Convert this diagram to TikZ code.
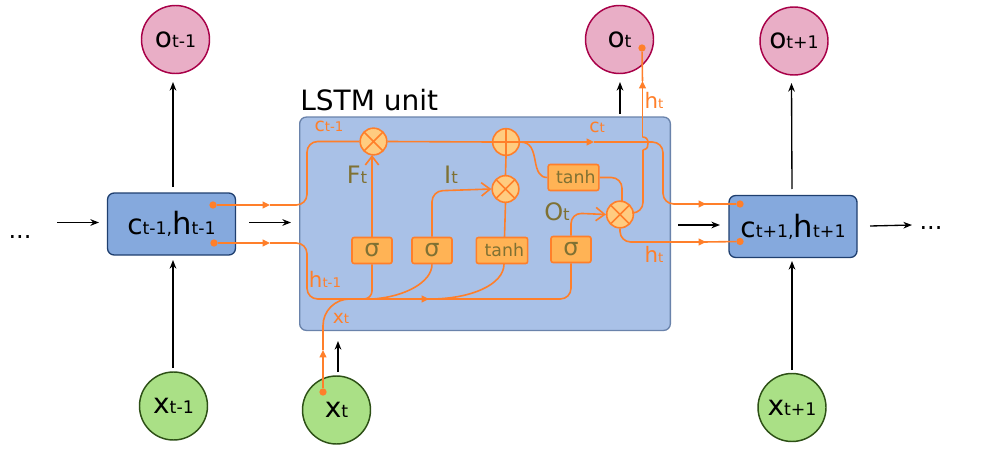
\documentclass[tikz,border=0pt]{standalone}
\usepackage{fontspec}
\setmainfont{DejaVu Sans}
\usetikzlibrary{arrows.meta}
\definecolor{ol}{HTML}{FF7F2A}
\definecolor{olv}{HTML}{7F7133}
\definecolor{lstm}{HTML}{A9C1E7}
\definecolor{lstmb}{HTML}{6A83AB}
\definecolor{boxf}{HTML}{85A9DD}
\definecolor{boxb}{HTML}{1F3F6F}
\definecolor{pinkf}{HTML}{E9AEC6}
\definecolor{pinkb}{HTML}{A80048}
\definecolor{greenf}{HTML}{AAE086}
\definecolor{greenb}{HTML}{2D5016}
\definecolor{gatef}{HTML}{FFCC80}
\definecolor{layf}{HTML}{FFB355}
\newcommand{\fs}[1]{\fontsize{#1}{#1}\selectfont}
\newcommand{\biglab}[2]{{\fs{21}#1}{\fs{13}#2}}
\newcommand{\midlab}[2]{{\fs{18}#1}{\fs{12.5}#2}}
\newcommand{\orlab}[2]{{\fs{14}#1}{\fs{10}#2}}
\newcommand{\hlab}[2]{{\fs{16}#1}{\fs{10}#2}}
\tikzset{
  circ/.style={circle,draw,line width=1.1pt,minimum size=51pt,inner sep=0pt},
  outn/.style={circ,fill=pinkf,draw=pinkb},
  inn/.style={circ,fill=greenf,draw=greenb},
  cellbox/.style={rectangle,rounded corners=5pt,draw=boxb,fill=boxf,line width=1pt,minimum width=96pt,minimum height=46.5pt,inner sep=0pt},
  gatec/.style={circle,draw=ol,fill=gatef,line width=1.2pt,minimum size=20pt,inner sep=0pt},
  timesg/.style={gatec,path picture={\draw[ol,line width=1.2pt] (path picture bounding box.north west)--(path picture bounding box.south east) (path picture bounding box.north east)--(path picture bounding box.south west);}},
  plusg/.style={gatec,path picture={\draw[ol,line width=1.2pt] (path picture bounding box.north)--(path picture bounding box.south) (path picture bounding box.east)--(path picture bounding box.west);}},
  lay/.style={rectangle,rounded corners=1.6pt,draw=ol,fill=layf,line width=1.2pt,minimum height=19.5pt,minimum width=30pt,inner sep=0pt,text=olv},
  olin/.style={draw=ol,line width=1.2pt,rounded corners=8pt},
  tipl/.style={olin,-{Triangle[length=5.5pt,width=5pt]}},
  barb/.style={olin,-{Straight Barb[length=6.5pt,width=10pt]}},
  dotn/.style={circle,fill=ol,minimum size=5.5pt,inner sep=0pt},
  arr/.style={draw=black,line width=1pt,-{Stealth[length=6.5pt,width=5pt]}},
  olbl/.style={text=ol,anchor=base},
  glbl/.style={text=olv,anchor=base},
}
\begin{document}
\begin{tikzpicture}[x=0.75pt,y=-0.75pt]
\useasboundingbox (0,0) rectangle (988,456);
% unit
\node[rectangle,rounded corners=5pt,draw=lstmb,fill=lstm,line width=1pt,minimum width=278pt,minimum height=160pt,inner sep=0pt] (unit) at (485,223.75) {};
\node[anchor=base west,inner sep=0pt] (title) at (300,111) {\fs{21}LSTM unit};
% big nodes
\node[outn] (om) at (175.5,39.5) {\biglab{o}{t-1}};
\node[outn] (o0) at (619.5,39.5) {\biglab{o}{t}};
\node[outn] (op) at (794,41) {\biglab{o}{t+1}};
\node[inn] (xm) at (173.5,406) {\biglab{x}{t-1}};
\node[inn] (x0) at (336.5,410) {\biglab{x}{t}};
\node[inn] (xp) at (792,407.5) {\biglab{x}{t+1}};
\node[cellbox] (bl) at (171.5,224) {\biglab{c}{t-1,}{\fs{23}h}{\fs{13}t-1}};
\node[cellbox] (br) at (793,226.5) {\biglab{c}{t+1,}{\fs{23}h}{\fs{13}t+1}};
\node[anchor=base,inner sep=0pt] (dl) at (20,238) {\fs{18}...};
\node[anchor=base,inner sep=0pt] (dr) at (931,229) {\fs{18}...};
% gates and layers
\node[timesg] (gf) at (373.5,141.5) {};
\node[plusg] (gp) at (506,142) {};
\node[timesg] (gi) at (505.5,189) {};
\node[timesg] (go) at (620,214.5) {};
\node[lay] (s1) at (372,250.5) {\fs{18}σ};
\node[lay] (s2) at (432,250.5) {\fs{18}σ};
\node[lay,minimum width=38.5pt] (t1) at (502,250.5) {\hspace*{3.5pt}\fs{13}tanh};
\node[lay] (s3) at (571,249.5) {\fs{18}σ};
\node[lay,minimum width=38pt] (t2) at (573.5,177.5) {\hspace*{3.5pt}\fs{13}tanh};
% dots
\node[dotn] (d1) at (213,205) {};
\node[dotn] (d2) at (214,243) {};
\node[dotn] (d3) at (740,204) {};
\node[dotn] (d4) at (740,241.5) {};
\node[dotn] (d5) at (642,48) {};
\node[dotn] (d6) at (323,392) {};
% black arrows
\path[arr] (173,187) -- (173,82);
\path[arr] (173,368) -- (173,260);
\path[arr] (57,222.5) -- (99,222.5);
\path[arr] (249,222.5) -- (291,222.5);
\path[arr] (620,114) -- (620,82);
\path[arr] (338,372) -- (338,341);
\path[arr] (678,225) -- (720,225);
\path[arr] (792,189) -- (791.5,83);
\path[arr] (792,370) -- (792,261);
\path[arr] (870,226) -- (912,225);
% orange: c(t-1)
\coordinate (m1) at (270,205);
\path[tipl] (d1) -- (m1);
\path[olin] (m1) -- (307,205) -- (307,141.5) -- (gf.west);
% orange: h(t-1)
\coordinate (m2) at (270,243);
\coordinate (m3) at (429,299);
\path[tipl] (d2) -- (m2);
\path[olin] (m2) -- (307,243) -- (307,299) -- (m3);
\path[tipl] (425,299) -- (m3);
\path[olin] (m3) -- (571,299) -- (s3.south);
% x(t)
\coordinate (m4) at (323,350);
\path[tipl] (d6) -- (m4);
\path[olin,rounded corners=20pt] (m4) -- (323,299) -- (372,299);
% layer outputs
\path[olin,rounded corners=6pt] (s1.south) -- (372,299) -- (350,299);
\path[olin] (s2.south) .. controls (432,282) and (405,297) .. (372,299);
\path[olin] (504,264) .. controls (504,285) and (470,299) .. (430,299);
% layer inputs
\path[barb] (s1.north) -- (372,155);
\path[barb] (s2.north) -- (432,191) -- (gi.west);
\path[olin] (504.5,237) -- (gi.south);
\path[olin] (gi.north) -- (gp.south);
\path[olin] (gf.east) -- (gp.west);
% c(t)
\coordinate (m5) at (594,142);
\path[tipl] (gp.east) -- (m5);
\path[olin] (m5) -- (663,142) -- (663,204) -- (702,204);
\path[tipl,rounded corners=0pt] (700,204) -- (706,204);
\path[olin] (704,204) -- (d3);
\path[draw=ol,line width=1.2pt] (gp.east) .. controls (531,142) and (533,150) .. (535,160) .. controls (537,172) and (540,177.5) .. (t2.west);
\path[olin] (t2.east) -- (622,177.5) -- (622,202);
\path[barb] (s3.north) -- (571,213) -- (go.west);
% h(t)
\path[olin] (634,213) -- (643,213) -- (643,150);
\path[draw=ol,line width=1.2pt] (643,150) .. controls (648,149) and (648,146) .. (648,143) .. controls (648,139) and (646,137) .. (642.5,137);
\coordinate (m6) at (642.5,81);
\path[olin] (642.5,137) -- (m6);
\path[tipl] (642.5,90) -- (m6);
\path[olin] (m6) -- (d5);
\path[olin] (go.south) -- (620,242) -- (702,242);
\path[tipl,rounded corners=0pt] (700,242) -- (706,242);
\path[olin] (704,242) -- (d4);
% labels
\node[olbl,inner sep=0pt] (lc1) at (329,132) {\orlab{c}{t-1}};
\node[olbl,inner sep=0pt] (lc2) at (597,133) {\orlab{c}{t}};
\node[olbl,inner sep=0pt] (lh1) at (654,109) {\hlab{h}{t}};
\node[olbl,inner sep=0pt] (lh2) at (654,262) {\hlab{h}{t}};
\node[olbl,inner sep=0pt] (lh3) at (325,287) {\hlab{h}{t-1}};
\node[olbl,inner sep=0pt] (lx) at (341,323) {\orlab{x}{t}};
\node[glbl,inner sep=0pt] (lf) at (357,183) {\midlab{F}{t}};
\node[glbl,inner sep=0pt] (li) at (451,183) {\midlab{I}{t}};
\node[glbl,inner sep=0pt] (lo) at (557,220) {\midlab{O}{t}};
\end{tikzpicture}
\end{document}
